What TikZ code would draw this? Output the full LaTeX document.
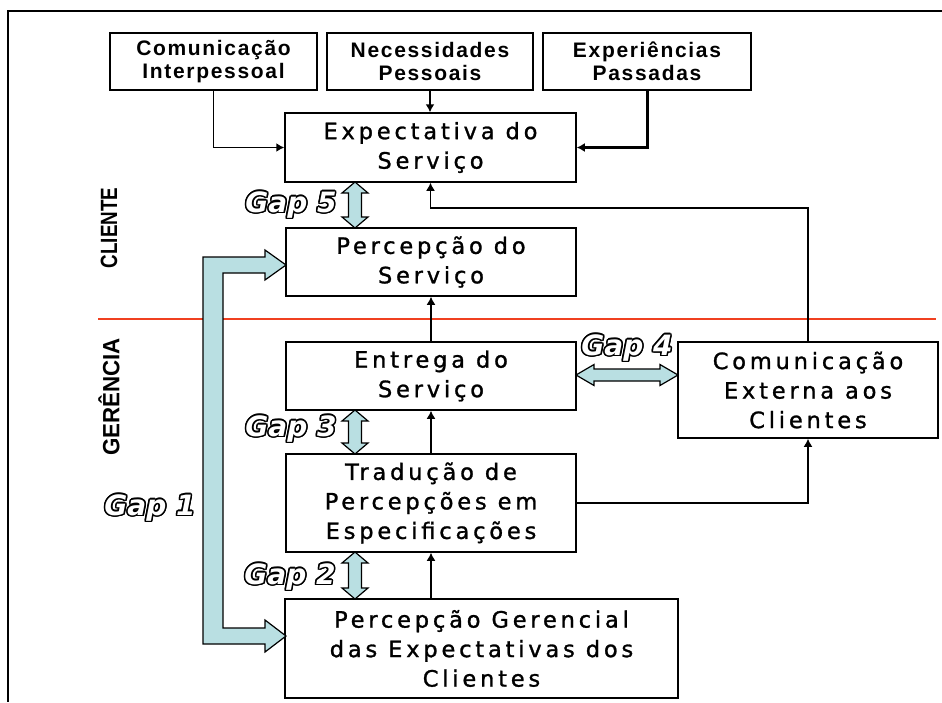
\documentclass[tikz,border=0pt]{standalone}
\usepackage{fontspec}
\setmainfont{Liberation Sans}
\newfontfamily\boxfont[LetterSpace=17,FakeBold=1.2]{DejaVu Sans}
\newfontfamily\topfont[LetterSpace=8]{Liberation Sans}
\newfontfamily\gapfont{DejaVu Sans}
\newfontfamily\sidefont[FakeStretch=0.8]{Liberation Sans}
\newfontfamily\sidefontwide[FakeStretch=0.95]{Liberation Sans}
\usetikzlibrary{arrows.meta,calc}
\definecolor{gapblue}{HTML}{B9DFE2}
\definecolor{divred}{HTML}{F04020}
\tikzset{
  box/.style={draw=black, line width=1.5pt, fill=white, inner sep=0pt, align=center,
    font=\boxfont\fontsize{22.5}{29.5}\selectfont},
  topbox/.style={draw=black, line width=1.5pt, fill=white, inner sep=0pt, align=center,
    font=\topfont\bfseries\fontsize{21}{23}\selectfont},
  arr/.style={line width=1.5pt, -{Latex[length=8pt,width=9pt]}},
  thickarr/.style={line width=3pt, -{Latex[length=8pt,width=9pt]}},
  gapfill/.style={draw=black, line width=1.2pt, fill=gapblue},
  gapsty/.style={font=\gapfont\bfseries\itshape\fontsize{28}{30}\selectfont, inner sep=0pt},
  side/.style={font=\sidefont\bfseries\fontsize{23.5}{25}\selectfont, rotate=90, inner sep=0pt},
  sidewide/.style={font=\sidefontwide\bfseries\fontsize{23.5}{25}\selectfont, rotate=90, inner sep=0pt},
}
\newcommand\gaplabel[3]{%
  \foreach \a [count=\i] in {0,22.5,...,337.5}
    {\node[gapsty, text=black] (#1o\i) at ($(#2)+(\a:1.5)$) {#3};}
  \node[gapsty, text=white] (#1) at (#2) {#3};}
\newcommand\vgap[3]{%
  \draw[gapfill] (#1,#2) -- (#1+13,#2+11) -- (#1+6.5,#2+11) -- (#1+6.5,#3-11)
    -- (#1+13,#3-11) -- (#1,#3) -- (#1-13,#3-11) -- (#1-6.5,#3-11)
    -- (#1-6.5,#2+11) -- (#1-13,#2+11) -- cycle;}
\begin{document}
\begin{tikzpicture}[x=1pt,y=-1pt]
\useasboundingbox (0,0) rectangle (942,702);
\fill[white] (0,0) rectangle (942,702);
% frame
\draw[line width=2pt] (942,10.5) -- (7.5,10.5) -- (7.5,702);
% divider
\draw[divred, line width=1.2pt] (98,319) -- (936,319);
% side labels
\node[side] (cli) at (109,228) {CLIENTE};
\node[sidewide] (ger) at (109,397) {GERÊNCIA};
% top boxes
\node[topbox, minimum width=207pt, minimum height=57pt] (ci) at (213.5,61.5) {Comunicação\\Interpessoal};
\node[topbox, minimum width=206pt, minimum height=57pt] (np) at (430,61.5) {Necessidades\\Pessoais};
\node[topbox, minimum width=208pt, minimum height=57pt] (ep) at (647,61.5) {Experiências\\Passadas};
% main boxes
\node[box, minimum width=291pt, minimum height=69pt] (exp) at (430.5,147.5) {Expectativa do\\Serviço};
\node[box, minimum width=290pt, minimum height=68pt] (per) at (431,262) {Percepção do\\Serviço};
\node[box, minimum width=290pt, minimum height=68pt] (ent) at (431,376) {Entrega do\\Serviço};
\node[box, minimum width=290pt, minimum height=98pt] (trad) at (431,503) {Tradução de\\Percepções em\\Especificações};
\node[box, minimum width=393pt, minimum height=99pt] (pger) at (481.5,648.5) {Percepção Gerencial\\das Expectativas dos\\Clientes};
\node[box, minimum width=260pt, minimum height=96pt] (com) at (808,390) {Comunicação\\Externa aos\\Clientes};
% connectors
\draw[arr] (ci.south) |- (exp.west);
\draw[arr] (np.south) -- (np.south |- exp.north);
\draw[thickarr] (ep.south) |- (exp.east);
\draw[arr] (com.north) |- ($(exp.south)+(0,25)$) -- (exp.south);
\draw[arr] (ent.north) -- (per.south);
\draw[arr] (trad.north) -- (ent.south);
\draw[arr] (pger.north -| trad.south) -- (trad.south);
\draw[line width=2pt, -{Latex[length=8pt,width=9pt]}] (trad.east) -| (com.south);
% gap arrows
\vgap{355}{182}{228}
\vgap{355}{410}{454}
\vgap{355}{552}{599}
\draw[gapfill] (576,375) -- (594,364.5) -- (594,369) -- (660,369) -- (660,364.5) -- (678,375)
  -- (660,385.5) -- (660,381) -- (594,381) -- (594,385.5) -- cycle;
\draw[gapfill] (286,265) -- (265,250) -- (265,257) -- (203,257) -- (203,644) -- (265,644)
  -- (265,652) -- (286,636) -- (265,620) -- (265,628) -- (223,628) -- (223,273)
  -- (265,273) -- (265,280) -- cycle;
% gap labels
\gaplabel{g5}{291,205}{Gap 5}
\gaplabel{g4}{627,348}{Gap 4}
\gaplabel{g3}{291,429}{Gap 3}
\gaplabel{g2}{290,577}{Gap 2}
\gaplabel{g1}{150,508}{Gap 1}
\end{tikzpicture}
\end{document}
